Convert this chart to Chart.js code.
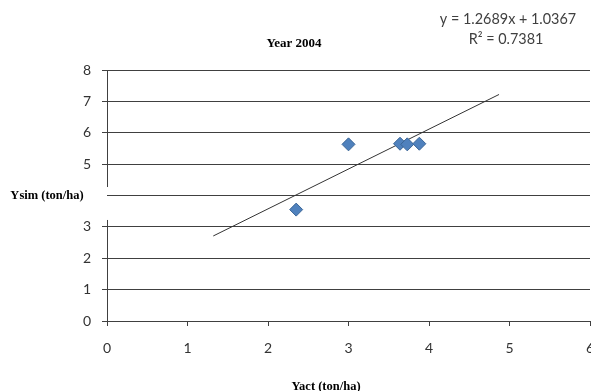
<!DOCTYPE html>
<html><head><meta charset="utf-8">
<script src="https://cdn.jsdelivr.net/npm/chart.js@4.4.1/dist/chart.umd.min.js"></script>
<style>html,body{margin:0;padding:0;background:#fff}#wrap{width:591px;height:391px;position:relative}</style>
</head><body><div id="wrap"><canvas id="c" width="591" height="391"></canvas></div>
<script>
const chartTitle = "Year 2004";
const xTitle = "Yact (ton/ha)";
const yTitle = "Ysim (ton/ha)";
const eqLines = ["y = 1.2689x + 1.0367", "R² = 0.7381"];
const yactValues = [2.35, 3.0, 3.64, 3.73, 3.88];
const ysimValues = [3.55, 5.63, 5.65, 5.63, 5.65];
const trendX = [1.32, 4.87];
const trendY = [2.71, 7.22];
const xTicks = [0, 1, 2, 3, 4, 5, 6];
const yTicks = [0, 1, 2, 3, 4, 5, 6, 7, 8];

const lineColor = '#404040';
const tickFont = {family: 'Lato, "Open Sans", sans-serif', size: 14};

const overlay = {
  id: 'overlay',
  afterDraw(chart) {
    const ctx = chart.ctx, ca = chart.chartArea;
    const ys = chart.scales.y;
    ctx.save();
    // y axis line, interrupted behind the y title
    ctx.strokeStyle = lineColor; ctx.lineWidth = 1;
    const x0 = Math.round(ca.left) + 0.5;
    ctx.beginPath();
    ctx.moveTo(x0, ca.top); ctx.lineTo(x0, ys.getPixelForValue(4.27));
    ctx.moveTo(x0, ys.getPixelForValue(3.22)); ctx.lineTo(x0, ca.bottom);
    ctx.stroke();
    // titles
    ctx.fillStyle = '#000';
    ctx.textAlign = 'center'; ctx.textBaseline = 'middle';
    ctx.font = 'bold 13px "Liberation Serif", "Times New Roman", serif';
    ctx.fillText(chartTitle, 294, 44);
    ctx.font = 'bold 12.5px "Liberation Serif", "Times New Roman", serif';
    ctx.fillText(xTitle, 326, 387);
    ctx.fillText(yTitle, 47, ys.getPixelForValue(4));
    // trendline equation
    ctx.fillStyle = '#404040';
    ctx.font = '14.4px Lato, "Open Sans", sans-serif';
    ctx.fillText(eqLines[0], 508, 19);
    ctx.fillText(eqLines[1], 506, 39);
    ctx.restore();
  }
};

new Chart(document.getElementById('c'), {
  type: 'scatter',
  data: {
    datasets: [
      {
        label: 'Ysim',
        data: yactValues.map((x, i) => ({x, y: ysimValues[i]})),
        pointStyle: 'rectRot',
        pointRadius: 6.5,
        backgroundColor: '#4f81bd',
        borderColor: '#3a6596',
        borderWidth: 1,
        order: 1
      },
      {
        label: 'Linear',
        type: 'line',
        data: trendX.map((x, i) => ({x, y: trendY[i]})),
        borderColor: '#333',
        borderWidth: 1,
        pointRadius: 0,
        fill: false,
        order: 2
      }
    ]
  },
  options: {
    responsive: false,
    animation: false,
    events: [],
    layout: {autoPadding: false, padding: {left: 0, right: 1, top: 70, bottom: 0}},
    plugins: {legend: {display: false}, tooltip: {enabled: false}, title: {display: false}},
    scales: {
      x: {
        type: 'linear', min: 0, max: 6,
        afterBuildTicks: s => { s.ticks = xTicks.map(v => ({value: v})); },
        ticks: {font: tickFont, color: '#333', padding: 14, maxRotation: 0},
        grid: {drawOnChartArea: false, drawTicks: true, tickLength: 5, color: lineColor},
        border: {display: true, color: lineColor, width: 1},
        afterFit: s => { s.height = 70; s.paddingLeft = 0; s.paddingRight = 0; }
      },
      y: {
        type: 'linear', min: 0, max: 8,
        afterBuildTicks: s => { s.ticks = yTicks.map(v => ({value: v})); },
        ticks: {font: tickFont, color: '#333', padding: 11,
          callback: v => v === 4 ? '' : String(v)},
        grid: {
          drawOnChartArea: true, drawTicks: true, tickLength: 5,
          color: lineColor,
          tickColor: c => (c.tick && c.tick.value === 4) ? 'rgba(0,0,0,0)' : lineColor
        },
        border: {display: false},
        afterFit: s => { s.width = 107; s.paddingTop = 0; s.paddingBottom = 0; }
      }
    }
  },
  plugins: [overlay]
});
</script></body></html>
